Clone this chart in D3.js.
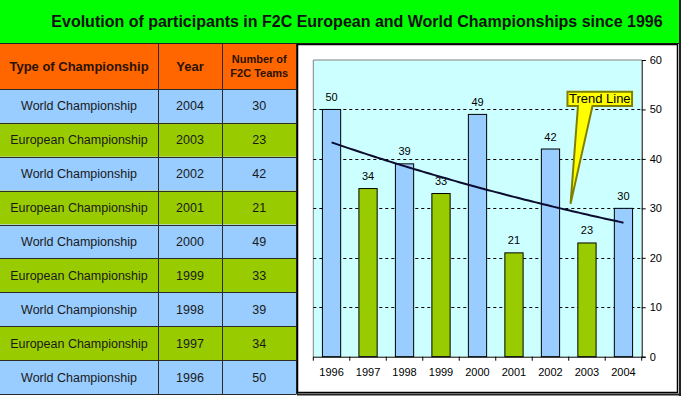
<!DOCTYPE html>
<html>
<head>
<meta charset="utf-8">
<script src="https://cdn.jsdelivr.net/npm/d3@7"></script>
<style>
  body { margin: 0; background: #fff; }
  svg { display: block; font-family: Arial, "Liberation Sans", sans-serif; }
</style>
</head>
<body>
<div id="chart"></div>
<script>
// data
const years = ['1996', '1997', '1998', '1999', '2000', '2001', '2002', '2003', '2004'];
const teams = [50, 34, 39, 33, 49, 21, 42, 23, 30];
const champTypes = ['World Championship', 'European Championship', 'World Championship', 'European Championship',
  'World Championship', 'European Championship', 'World Championship', 'European Championship', 'World Championship'];
const yTicks = [0, 10, 20, 30, 40, 50, 60];
const title = 'Evolution of participants in F2C European and World Championships since 1996';
const headers = ['Type of Championship', 'Year', ['Number of', 'F2C Teams']];

const W = 681, H = 396;
const colors = { World: '#99ccff', European: '#99cc00' };

const svg = d3.select('#chart').append('svg')
  .attr('width', W).attr('height', H);

// title band
svg.append('rect').attr('x', 0).attr('y', 0).attr('width', W).attr('height', 43).attr('fill', '#00ff00');
svg.append('text')
  .attr('x', 357).attr('y', 27)
  .attr('text-anchor', 'middle')
  .attr('font-size', 16).attr('font-weight', 'bold').attr('fill', '#111')
  .text(title);

// table
const colX = [0, 158, 222, 296.5];
const headTop = 43, headBottom = 89, tableBottom = 394;
const rowH = (tableBottom - headBottom) / years.length;

let rows = years.map((yr, i) => ({ year: yr, value: teams[i], type: champTypes[i] })).reverse();

svg.append('rect').attr('x', 0).attr('y', headTop).attr('width', colX[3]).attr('height', headBottom - headTop).attr('fill', '#ff6600');

let rowG = svg.selectAll('g.row')
  .data(rows)
  .enter()
  .append('g')
  .attr('class', 'row')
  .attr('transform', (d, i) => `translate(0, ${headBottom + i * rowH})`);

rowG.append('rect')
  .attr('width', colX[3]).attr('height', rowH)
  .attr('fill', d => d.type.startsWith('World') ? colors.World : colors.European);

[d => d.type, d => d.year, d => d.value].forEach((fn, c) => {
  rowG.append('text')
    .attr('x', (colX[c] + colX[c + 1]) / 2)
    .attr('y', rowH / 2 + 4.5)
    .attr('text-anchor', 'middle')
    .attr('font-size', 12.5).attr('fill', '#1a1a1a')
    .text(fn);
});

// header text
headers.forEach((h, c) => {
  let cx = (colX[c] + colX[c + 1]) / 2;
  if (Array.isArray(h)) {
    h.forEach((line, j) => {
      svg.append('text').attr('x', cx).attr('y', 63 + j * 14)
        .attr('text-anchor', 'middle').attr('font-size', 11).attr('font-weight', 'bold').attr('fill', '#2a1200')
        .text(line);
    });
  } else {
    svg.append('text').attr('x', cx).attr('y', 71)
      .attr('text-anchor', 'middle').attr('font-size', 13).attr('font-weight', 'bold').attr('fill', '#2a1200')
      .text(h);
  }
});

// table grid lines
let grid = svg.append('g').attr('stroke', '#2b2b2b').attr('stroke-width', 1);
colX.slice(1).forEach((x, i) => {
  grid.append('line').attr('x1', x + 0.5).attr('x2', x + 0.5).attr('y1', headTop).attr('y2', tableBottom)
    .attr('stroke-width', i === 2 ? 2 : 1);
});
d3.range(years.length + 2).forEach(i => {
  let y = i === 0 ? headTop : headBottom + (i - 1) * rowH;
  grid.append('line').attr('x1', 0).attr('x2', colX[3]).attr('y1', Math.round(y) + 0.5).attr('y2', Math.round(y) + 0.5);
});
svg.append('line').attr('x1', 0).attr('x2', W).attr('y1', 43.5).attr('y2', 43.5).attr('stroke', '#222');
svg.append('line').attr('x1', 680).attr('x2', 680).attr('y1', 0).attr('y2', H).attr('stroke', '#222').attr('stroke-width', 2);

// chart frame
svg.append('rect').attr('x', 297.5).attr('y', 44.5).attr('width', 380).attr('height', 348)
  .attr('fill', '#fff').attr('stroke', '#000').attr('stroke-width', 1.5);
svg.append('line').attr('x1', 297).attr('x2', W).attr('y1', 394.5).attr('y2', 394.5).attr('stroke', '#222').attr('stroke-width', 2);

// plot
const plot = { left: 313.3, right: 641.7, top: 60, bottom: 356.7 };

let x = d3.scaleBand().domain(years).range([plot.left, plot.right]).paddingInner(0.5).paddingOuter(0.25);
let y = d3.scaleLinear().domain([0, 60]).range([plot.bottom, plot.top]);
let step = x.step();

svg.append('rect')
  .attr('x', plot.left).attr('y', plot.top)
  .attr('width', plot.right - plot.left).attr('height', plot.bottom - plot.top)
  .attr('fill', '#ccffff');
svg.append('path')
  .attr('d', `M${plot.left},${plot.bottom}V${plot.top}H${plot.right}`)
  .attr('fill', 'none').attr('stroke', '#808080');

// gridlines
svg.append('g')
  .selectAll('line')
  .data(yTicks.filter(t => t > 0 && t < 60))
  .enter()
  .append('line')
  .attr('x1', plot.left).attr('x2', plot.right)
  .attr('y1', d => Math.round(y(d)) + 0.5).attr('y2', d => Math.round(y(d)) + 0.5)
  .attr('stroke', '#000').attr('stroke-dasharray', '3,3');

// bars
svg.append('g')
  .selectAll('rect')
  .data(years)
  .enter()
  .append('rect')
  .attr('x', d => x(d))
  .attr('y', (d, i) => y(teams[i]))
  .attr('width', x.bandwidth())
  .attr('height', (d, i) => y(0) - y(teams[i]))
  .attr('fill', (d, i) => champTypes[i].startsWith('World') ? colors.World : colors.European)
  .attr('stroke', '#000').attr('stroke-width', 1);

// data labels
svg.append('g')
  .selectAll('text')
  .data(years)
  .enter()
  .append('text')
  .attr('x', d => x(d) + x.bandwidth() / 2)
  .attr('y', (d, i) => y(teams[i]) - 8.5)
  .attr('text-anchor', 'middle').attr('font-size', 11).attr('fill', '#000')
  .text((d, i) => teams[i]);

// exponential trend line fitted to the data (as Excel does)
let idx = teams.map((v, i) => i + 1);
let lnv = teams.map(v => Math.log(v));
let mx = d3.mean(idx), my = d3.mean(lnv);
let slope = d3.sum(idx, (t, i) => (t - mx) * (lnv[i] - my)) / d3.sum(idx, t => (t - mx) * (t - mx));
let icpt = my - slope * mx;
let xIdx = d3.scaleLinear().domain([1, years.length])
  .range([x(years[0]) + x.bandwidth() / 2, x(years[years.length - 1]) + x.bandwidth() / 2]);
let trendPts = d3.range(1, years.length + 0.001, 0.1).map(t => [xIdx(t), y(Math.exp(icpt + slope * t))]);
svg.append('path')
  .attr('d', d3.line()(trendPts))
  .attr('fill', 'none').attr('stroke', '#0c0c30').attr('stroke-width', 2);

// x axis
let xAxis = svg.append('g');
xAxis.append('line').attr('x1', plot.left).attr('x2', plot.right)
  .attr('y1', plot.bottom + 0.5).attr('y2', plot.bottom + 0.5).attr('stroke', '#000');
xAxis.selectAll('line.tick')
  .data(d3.range(years.length + 1))
  .enter()
  .append('line')
  .attr('class', 'tick')
  .attr('x1', i => plot.left + i * step).attr('x2', i => plot.left + i * step)
  .attr('y1', plot.bottom).attr('y2', plot.bottom + 4).attr('stroke', '#000');
xAxis.selectAll('text')
  .data(years)
  .enter()
  .append('text')
  .attr('x', d => x(d) + x.bandwidth() / 2)
  .attr('y', 376)
  .attr('text-anchor', 'middle').attr('font-size', 11).attr('fill', '#000')
  .text(d => d);

// right y axis
let yAxis = svg.append('g')
  .attr('transform', `translate(${plot.right},0)`)
  .call(d3.axisRight(y).tickValues(yTicks).tickSize(4).tickPadding(4));
yAxis.select('.domain').attr('stroke', '#000');
yAxis.selectAll('text').attr('font-size', 11).attr('font-family', 'Arial, "Liberation Sans", sans-serif').attr('fill', '#000');

// callout
let tip = [x(years[6]) + x.bandwidth() / 2 + step * 0.55, y(30.9)];
let boxL = x(years[7]) + x.bandwidth() / 2 - 19.5, boxR = boxL + 64.6;
let boxT = y(53.6), boxB = y(50.7);
svg.append('path')
  .attr('d', `M${boxL},${boxT}H${boxR}V${boxB}H${boxL + 25}L${tip[0]},${tip[1]}L${boxL + 10.5},${boxB}H${boxL}Z`)
  .attr('fill', '#ffff00').attr('stroke', '#808000').attr('stroke-width', 2);
svg.append('text')
  .attr('x', (boxL + boxR) / 2).attr('y', boxB - 2.5)
  .attr('text-anchor', 'middle').attr('font-size', 13).attr('fill', '#000')
  .text('Trend Line');
</script>
</body>
</html>
